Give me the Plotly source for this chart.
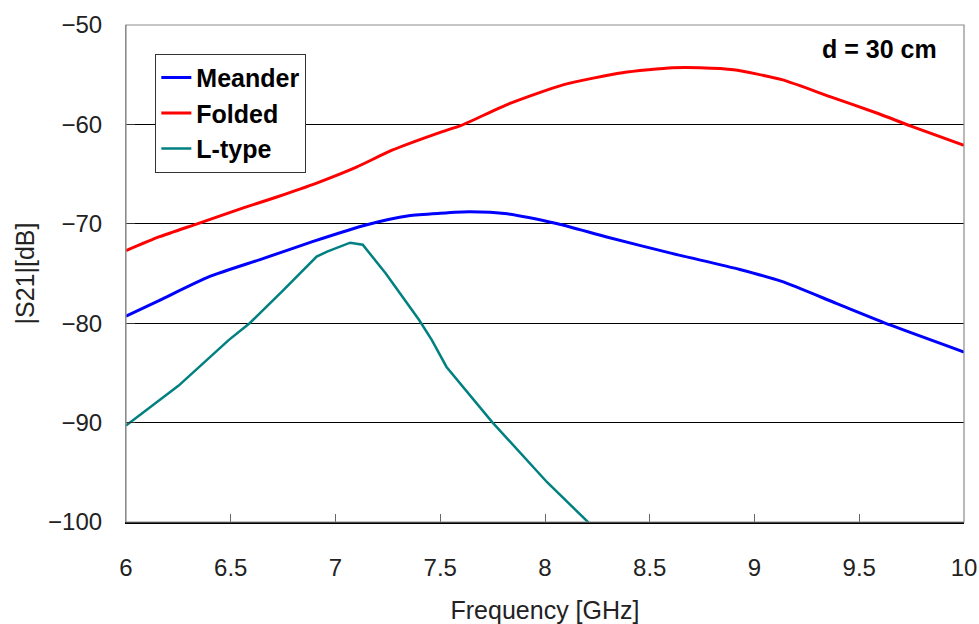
import plotly.graph_objects as go

# Measured transmission |S21| versus frequency, antenna separation d = 30 cm
freq_meander = [6.0, 6.16, 6.4, 6.64, 6.89, 7.15, 7.35, 7.5, 7.64, 7.82, 8.06, 8.29, 8.61, 8.93, 9.13, 9.39, 9.65, 10.0]
s21_meander = [-79.3, -77.7, -75.3, -73.6, -71.8, -70.1, -69.2, -68.95, -68.8, -69.0, -70.0, -71.3, -73.0, -74.6, -75.8, -78.0, -80.2, -82.9]

freq_folded = [6.0, 6.16, 6.34, 6.56, 6.72, 6.91, 7.1, 7.27, 7.5, 7.6, 7.82, 8.09, 8.37, 8.61, 8.74, 8.9, 9.13, 9.36, 9.59, 9.75, 10.0]
s21_folded = [-72.7, -71.3, -70.0, -68.4, -67.3, -65.9, -64.3, -62.6, -60.8, -60.1, -58.0, -56.0, -54.8, -54.3, -54.3, -54.5, -55.5, -57.2, -58.9, -60.2, -62.1]

freq_ltype = [6.0, 6.25, 6.49, 6.59, 6.75, 6.91, 6.96, 7.07, 7.13, 7.24, 7.4, 7.46, 7.53, 7.75, 8.01, 8.21]
s21_ltype = [-90.3, -86.3, -81.7, -80.0, -76.7, -73.3, -72.8, -71.9, -72.1, -75.0, -79.7, -81.7, -84.4, -90.0, -96.0, -100.1]

x_ticks = [6, 6.5, 7, 7.5, 8, 8.5, 9, 9.5, 10]
x_tick_text = ["6", "6.5", "7", "7.5", "8", "8.5", "9", "9.5", "10"]
y_ticks = [-100, -90, -80, -70, -60, -50]

FONT = "Liberation Sans, Arial, sans-serif"

fig = go.Figure()
fig.add_trace(go.Scatter(x=freq_meander, y=s21_meander, name="Meander", mode="lines",
                         line=dict(color="#0000ff", width=3, shape="spline", smoothing=0.6)))
fig.add_trace(go.Scatter(x=freq_folded, y=s21_folded, name="Folded", mode="lines",
                         line=dict(color="#ff0000", width=3, shape="spline", smoothing=0.6)))
fig.add_trace(go.Scatter(x=freq_ltype, y=s21_ltype, name="L-type", mode="lines",
                         line=dict(color="#008080", width=2.5)))

# frame: grey top/right/left edges, black bottom axis
fig.add_shape(type="rect", xref="paper", yref="paper", x0=0, y0=0, x1=1, y1=1,
              line=dict(color="#8c8c8c", width=1.2), layer="above")

fig.update_layout(
    width=979, height=624,
    margin=dict(l=126, r=15, t=25, b=102),
    paper_bgcolor="white", plot_bgcolor="white",
    font=dict(family=FONT, color="#111111"),
    showlegend=True,
    legend=dict(
        x=0.035, y=0.942, xanchor="left", yanchor="top",
        bgcolor="white", bordercolor="#333333", borderwidth=1,
        font=dict(family=FONT, size=25, color="black", weight="bold"),
        itemwidth=30, tracegroupgap=0,
    ),
    xaxis=dict(
        range=[6, 10], tickvals=x_ticks, ticktext=x_tick_text,
        automargin=False,
        ticks="inside", ticklen=8, tickcolor="#666666", tickwidth=1,
        tickfont=dict(size=24, color="#222222"),
        ticklabelstandoff=23,
        showgrid=False, zeroline=False,
        showline=True, linecolor="black", linewidth=1.5,
        title=dict(text="Frequency [GHz]", font=dict(size=25, color="#222222"), standoff=22),
    ),
    yaxis=dict(
        range=[-100, -50], tickvals=y_ticks,
        automargin=False,
        ticks="inside", ticklen=9, tickcolor="#333333", tickwidth=1,
        tickfont=dict(size=24, color="#222222"),
        ticklabelstandoff=18,
        showgrid=True, gridcolor="black", gridwidth=1,
        zeroline=False,
        showline=True, linecolor="#8c8c8c", linewidth=1.2,
        title=dict(text="|S21|[dB]", font=dict(size=25, color="#222222"), standoff=6),
    ),
    annotations=[
        dict(text="<b>d = 30 cm</b>", xref="paper", yref="paper", x=0.97, y=0.952,
             xanchor="right", yanchor="middle", showarrow=False,
             font=dict(family=FONT, size=25, color="black")),
    ],
)

fig.write_html("out.html")
